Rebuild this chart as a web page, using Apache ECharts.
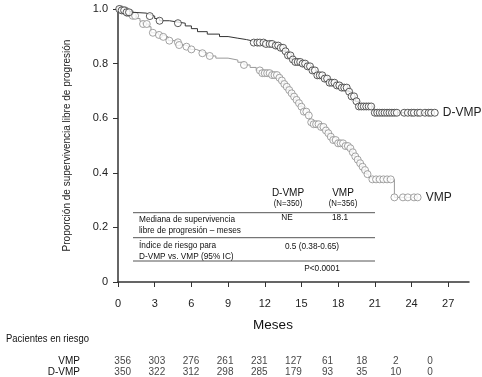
<!DOCTYPE html>
<html>
<head>
<meta charset="utf-8">
<script src="https://cdn.jsdelivr.net/npm/echarts@6/dist/echarts.min.js"></script>
<style>
  html, body { margin: 0; padding: 0; background: #fff; }
  #main { width: 482px; height: 377px; }
</style>
</head>
<body>
<div id="main"></div>
<script>
// curvas Kaplan-Meier: [mes, proporción]
var dvmpCurve = [[0,1],[0.3,0.995],[0.7,0.988],[1.2,0.985],[2.3,0.98],[2.6,0.974],[3.0,0.965],[3.4,0.957],[4.2,0.952],[4.9,0.948],[5.5,0.938],[6.0,0.928],[6.5,0.917],[7.3,0.908],[8.3,0.899],[9.0,0.893],[9.8,0.888],[10.5,0.882],[11.1,0.877],[12.0,0.872],[12.8,0.866],[13.3,0.858],[13.6,0.845],[13.9,0.83],[14.2,0.815],[14.5,0.806],[15.0,0.8],[15.5,0.79],[15.9,0.775],[16.3,0.757],[16.8,0.745],[17.3,0.73],[17.8,0.72],[18.2,0.712],[18.8,0.697],[19.1,0.68],[19.4,0.662],[19.7,0.643],[20.9,0.62],[25.9,0.62]];
var vmpCurve = [[0,1],[0.4,0.995],[0.8,0.985],[1.2,0.975],[1.5,0.965],[1.8,0.955],[2.0,0.945],[2.5,0.935],[2.7,0.913],[3.3,0.905],[3.7,0.898],[4.1,0.884],[4.9,0.878],[5.0,0.868],[5.5,0.862],[5.9,0.852],[6.4,0.845],[6.8,0.838],[7.3,0.828],[8.0,0.82],[9.0,0.813],[9.8,0.805],[10.3,0.795],[10.8,0.786],[11.3,0.775],[11.7,0.765],[12.5,0.758],[13.1,0.748],[13.3,0.738],[13.5,0.725],[13.7,0.715],[13.9,0.703],[14.1,0.691],[14.3,0.679],[14.5,0.667],[14.7,0.655],[14.9,0.642],[15.2,0.624],[15.6,0.61],[15.7,0.585],[16.0,0.578],[16.6,0.568],[16.9,0.555],[17.1,0.545],[17.4,0.532],[17.6,0.52],[18.0,0.508],[18.5,0.498],[18.9,0.49],[19.1,0.475],[19.3,0.46],[19.5,0.448],[19.7,0.435],[19.9,0.422],[20.1,0.41],[20.3,0.395],[20.5,0.382],[20.7,0.376],[22.6,0.31],[24.5,0.31]];

// tiempos censurados (meses)
var dvmpCensor = [0.1,0.3,0.5,0.7,0.9,2.6,3.4,4.9,11.1,11.4,11.6,11.9,12.1,12.4,12.6,12.9,13.1,13.3,13.5,13.7,13.9,14.1,14.3,14.5,14.7,14.9,15.1,15.3,15.5,15.7,15.9,16.1,16.3,16.5,16.7,16.9,17.1,17.3,17.5,17.7,17.9,18.1,18.3,18.5,18.7,18.9,19.1,19.3,19.5,19.7,19.9,20.1,20.3,20.5,20.7,21.0,21.2,21.4,21.6,21.8,22.0,22.2,22.4,22.6,22.8,23.4,23.7,24.0,24.2,24.5,24.7,25.1,25.4,25.6,25.9];
var vmpCensor = [0.2,0.4,0.6,0.8,1.0,1.2,1.4,2.05,2.35,2.85,3.35,3.7,4.2,4.9,5.0,5.6,6.0,6.9,7.5,10.3,11.6,11.8,12.0,12.2,12.4,12.6,12.8,13.0,13.2,13.4,13.6,13.8,14.0,14.2,14.4,14.6,14.8,15.0,15.2,15.4,15.6,15.8,16.0,16.2,16.4,16.6,16.8,17.0,17.2,17.4,17.6,17.8,18.0,18.2,18.4,18.6,18.8,19.0,19.2,19.4,19.6,19.8,20.0,20.2,20.4,20.8,21.1,21.4,21.7,22.0,22.3,22.6,23.3,23.7,24.2,24.5];

// pacientes en riesgo
var xTicks = [0,3,6,9,12,15,18,21,24,27];
var riskVMP = [356,303,276,261,231,127,61,18,2,0];
var riskDVMP = [350,322,312,298,285,179,93,35,10,0];

var font = 'Liberation Sans';

// valor de la curva en el tiempo t
function survAt (curve, t) {
  var v = curve[0][1];
  for (var i = 0; i < curve.length; i++) {
    if (curve[i][0] <= t) v = curve[i][1];
  }
  return v;
}
function censorPoints (curve, times) {
  return times.map(function (t) { return [t, survAt(curve, t)]; });
}
function riskPoints (row, vals) {
  return xTicks.map(function (m, i) { return [m, row, vals[i]]; });
}

var chart = echarts.init(document.getElementById('main'));

// texto algo estrecho (la fuente original es condensada)
function txt (x, y, s, opt) {
  opt = opt || {};
  return {
    type: 'text', x: x, y: y, silent: true, scaleX: opt.sx || 0.87,
    style: {
      text: s, fill: opt.color || '#111', font: 'normal ' + (opt.size || 9.5) + 'px "' + font + '"',
      textAlign: opt.align || 'left', textVerticalAlign: 'middle'
    }
  };
}
function hline (y) {
  return { type: 'line', silent: true, shape: { x1: 133, y1: y, x2: 375, y2: y }, style: { stroke: '#555', lineWidth: 1 } };
}

chart.setOption({
  animation: false,
  textStyle: { fontFamily: font },
  grid: [
    { left: 118, top: 9, right: 13, bottom: 95 },
    { left: 122.7, top: 356.5, width: 307.3, height: 20.6 }
  ],
  xAxis: [
    {
      type: 'value', gridIndex: 0, min: 0, max: 28.7,
      axisLine: { lineStyle: { color: '#333', width: 1.5 } },
      axisTick: { customValues: xTicks, length: 5, lineStyle: { color: '#333' } },
      axisLabel: { customValues: xTicks, margin: 16, color: '#222', fontSize: 11 },
      splitLine: { show: false }
    },
    { type: 'value', gridIndex: 1, min: 0, max: 27, show: false }
  ],
  yAxis: [
    {
      type: 'value', gridIndex: 0, min: 0, max: 1, interval: 0.2,
      name: 'Proporción de supervivencia libre de progresión',
      nameLocation: 'middle', nameGap: 46,
      nameTextStyle: { fontSize: 10, color: '#222' },
      axisLine: { show: true, lineStyle: { color: '#333', width: 1.5 } },
      axisTick: { show: true, length: 5, lineStyle: { color: '#333' } },
      axisLabel: {
        margin: 10, color: '#222', fontSize: 11,
        formatter: function (v) { return v === 0 ? '0' : v.toFixed(1); }
      },
      splitLine: { show: false }
    },
    {
      type: 'category', gridIndex: 1, data: ['D-VMP', 'VMP'],
      axisLine: { show: false }, axisTick: { show: false },
      axisLabel: { interval: 0, margin: 42.7, color: '#111', fontSize: 10 }
    }
  ],
  series: [
    {
      name: 'VMP', type: 'line', step: 'end', data: vmpCurve, symbol: 'none',
      lineStyle: { color: '#999', width: 1 },
      endLabel: { show: true, formatter: 'VMP', color: '#222', fontSize: 12, distance: 8 },
      z: 2
    },
    {
      name: 'VMP cens', type: 'scatter', data: censorPoints(vmpCurve, vmpCensor),
      symbol: 'circle', symbolSize: 7,
      itemStyle: { color: '#fff', borderColor: '#8c8c8c', borderWidth: 1 }, z: 3
    },
    {
      name: 'D-VMP', type: 'line', step: 'end', data: dvmpCurve, symbol: 'none',
      lineStyle: { color: '#333', width: 1 },
      endLabel: { show: true, formatter: 'D-VMP', color: '#222', fontSize: 12, distance: 8 },
      z: 4
    },
    {
      name: 'D-VMP cens', type: 'scatter', data: censorPoints(dvmpCurve, dvmpCensor),
      symbol: 'circle', symbolSize: 7,
      itemStyle: { color: '#fff', borderColor: '#333', borderWidth: 1 }, z: 5
    },
    {
      name: 'riesgo VMP', type: 'scatter', xAxisIndex: 1, yAxisIndex: 1,
      data: riskPoints('VMP', riskVMP), symbolSize: 1, itemStyle: { color: 'rgba(0,0,0,0)' },
      label: { show: true, position: 'inside', color: '#111', fontSize: 10, formatter: function (p) { return p.value[2]; } }
    },
    {
      name: 'riesgo D-VMP', type: 'scatter', xAxisIndex: 1, yAxisIndex: 1,
      data: riskPoints('D-VMP', riskDVMP), symbolSize: 1, itemStyle: { color: 'rgba(0,0,0,0)' },
      label: { show: true, position: 'inside', color: '#111', fontSize: 10, formatter: function (p) { return p.value[2]; } }
    }
  ],
  graphic: [
    txt(273, 325, 'Meses', { size: 13.5, align: 'center', sx: 1 }),
    txt(6, 339, 'Pacientes en riesgo', { size: 10.5, sx: 0.9 }),
    // tabla dentro del gráfico
    txt(288, 193, 'D-VMP', { size: 11.5, align: 'center' }),
    txt(288, 204, '(N=350)', { size: 9, align: 'center' }),
    txt(343, 193, 'VMP', { size: 11.5, align: 'center' }),
    txt(343, 204, '(N=356)', { size: 9, align: 'center' }),
    hline(212.7),
    txt(287, 217, 'NE', { align: 'center' }),
    txt(340, 217, '18.1', { align: 'center' }),
    txt(139, 219, 'Mediana de supervivencia'),
    txt(139, 230, 'libre de progresión – meses'),
    hline(237.7),
    txt(139, 245, 'Índice de riesgo para'),
    txt(139, 256, 'D-VMP vs. VMP (95% IC)'),
    txt(312, 246, '0.5 (0.38-0.65)', { align: 'center' }),
    hline(261),
    txt(322, 268, 'P<0.0001', { align: 'center' })
  ]
});
</script>
</body>
</html>
